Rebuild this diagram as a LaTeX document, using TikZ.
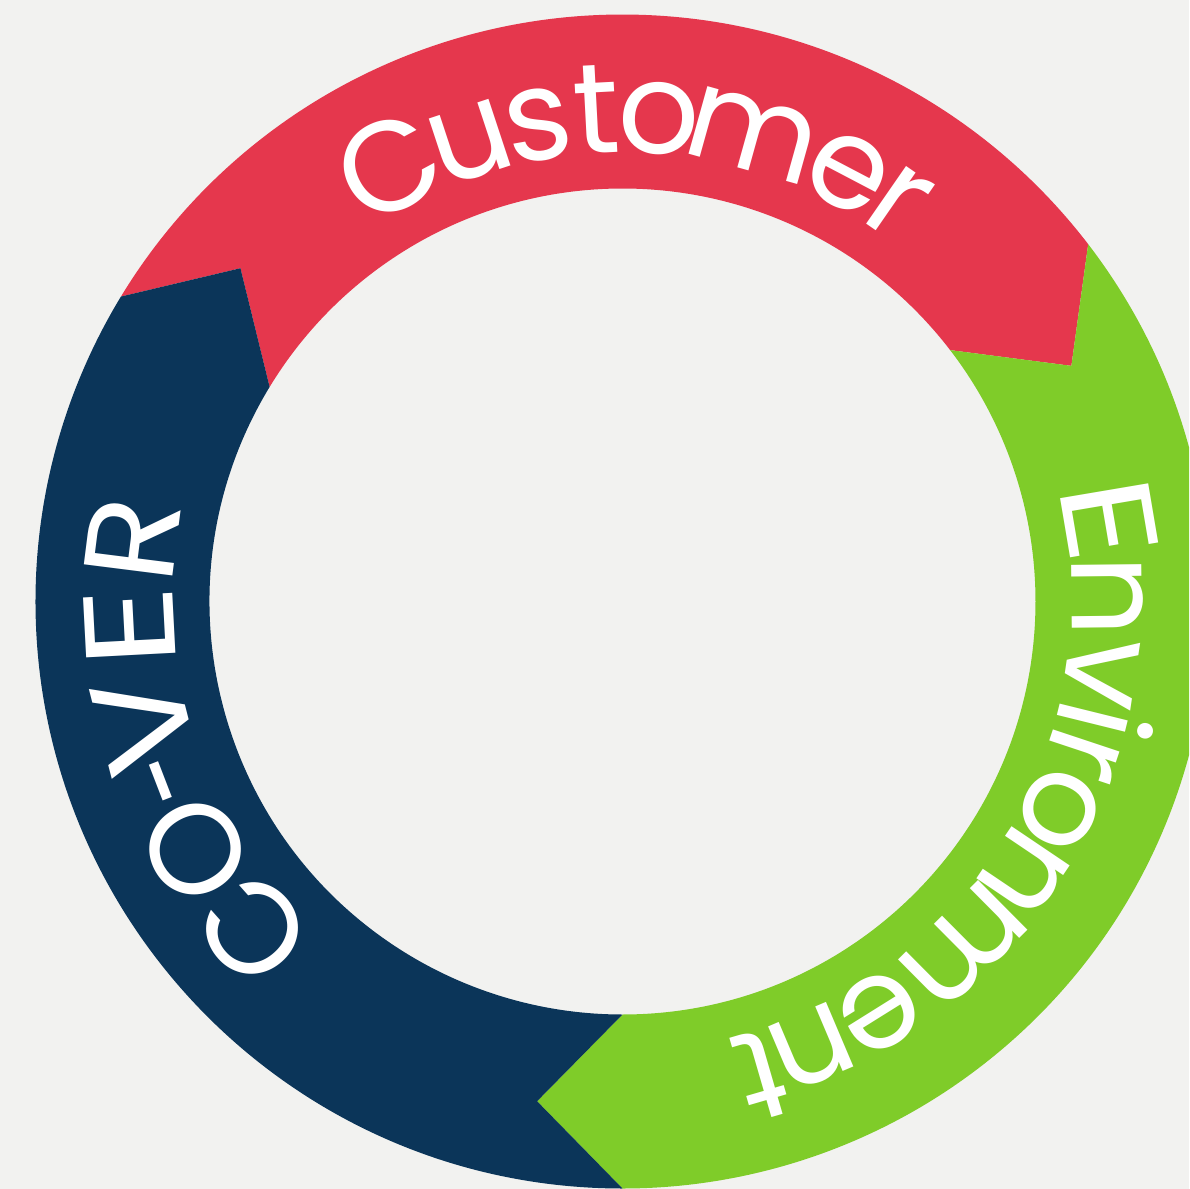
\documentclass[tikz,border=0pt]{standalone}
\usepackage{fontspec}
\newfontfamily\ringfont{Poppins}
\definecolor{pagebg}{HTML}{F2F2F0}
\definecolor{custred}{HTML}{E5374D}
\definecolor{envgreen}{HTML}{7FCC29}
\definecolor{covernavy}{HTML}{0B3559}

% one upright letter on the ring: [width factor], name, angle of its centre, glyph
\newcommand\arcletter[4][1]{\node[ringtext, rotate=#3-90, xscale=#1] (#2) at (#3:449) {#4};}

\begin{document}
\begin{tikzpicture}[x=1pt,y=1pt,
  ringtext/.style={text=white, font=\ringfont\fontsize{128}{128}\selectfont,
                   anchor=base, inner sep=0pt}]
\useasboundingbox (-622.5,-587.5) rectangle (566.5,601.5);
\fill[pagebg] (-622.5,-587.5) rectangle (566.5,601.5);
\clip (-622.5,-587.5) rectangle (566.5,601.5);

% ring segments: each one runs clockwise and ends in a point
% that sits in the notch of the next one
\fill[custred] (148.7:587) arc[start angle=148.7, end angle=37.5, radius=587]
  -- (27.7:507) -- (37.5:413)
  arc[start angle=37.5, end angle=148.7, radius=413]
  -- (138.9:507) -- cycle;
\fill[envgreen] (37.5:587) arc[start angle=37.5, end angle=-90, radius=587]
  -- (-99.7:507) -- (-90:413)
  arc[start angle=-90, end angle=37.5, radius=413]
  -- (27.7:507) -- cycle;
\fill[covernavy] (270:587) arc[start angle=270, end angle=148.7, radius=587]
  -- (138.9:507) -- (148.7:413)
  arc[start angle=148.7, end angle=270, radius=413]
  -- (260.3:507) -- cycle;

% Customer
\arcletter{c1}{118.3}{C}
\arcletter{c2}{108.3}{u}
\arcletter{c3}{100.0}{s}
\arcletter{c4}{93.0}{t}
\arcletter{c5}{85.7}{o}
\arcletter{c6}{74.4}{m}
\arcletter{c7}{62.3}{e}
\arcletter{c8}{55.3}{r}

% Environment
\arcletter[1.25]{e1}{9.6}{E}
\arcletter{e2}{0.6}{n}
\arcletter{e3}{-8.4}{v}
\arcletter{e4}{-13.9}{i}
\arcletter{e5}{-18.4}{r}
\arcletter{e6}{-25.5}{o}
\arcletter{e7}{-34.0}{n}
\arcletter{e8}{-45.2}{m}
\arcletter{e9}{-58.0}{e}
\arcletter{e10}{-67.0}{n}
\arcletter{e11}{-73.8}{t}

% CO-VER
\arcletter{v1}{221.6}{C}
\arcletter{v2}{210.2}{O}
\arcletter[0.75]{v3}{201.1}{-}
\arcletter[1.15]{v4}{194.3}{V}
\arcletter[1.25]{v5}{183.0}{E}
\arcletter[1.08]{v6}{172.8}{R}
\end{tikzpicture}
\end{document}
